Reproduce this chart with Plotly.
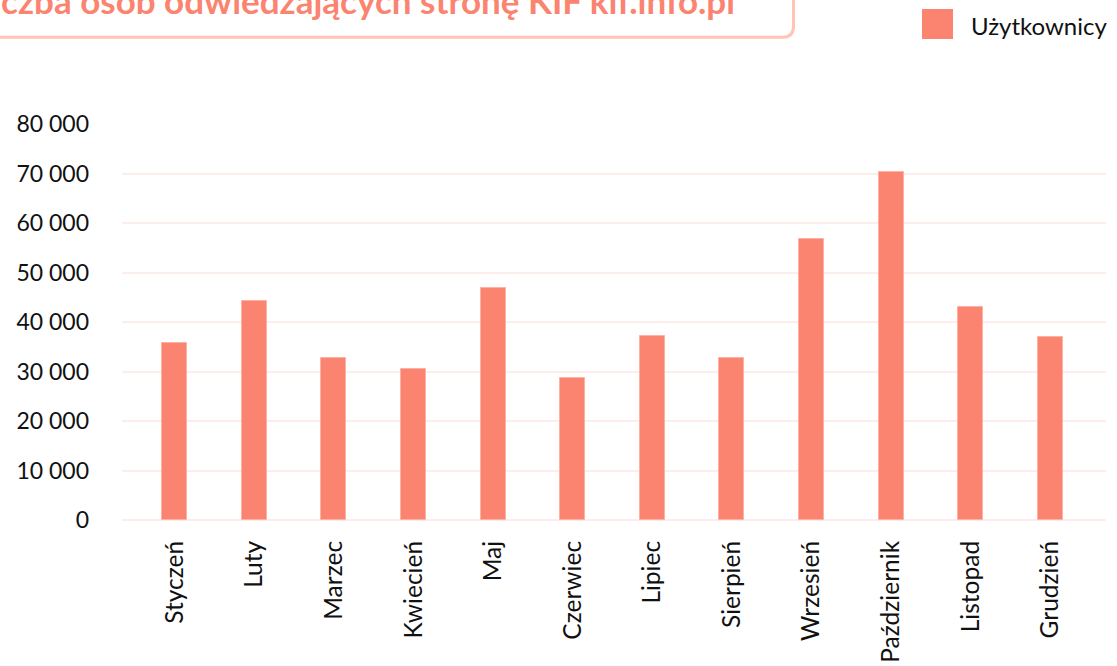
import plotly.graph_objects as go

months = ["Styczeń", "Luty", "Marzec", "Kwiecień", "Maj", "Czerwiec",
          "Lipiec", "Sierpień", "Wrzesień", "Październik", "Listopad", "Grudzień"]
users = [35800, 44200, 32800, 30500, 46800, 28600,
         37100, 32700, 56700, 70300, 43000, 37000]
series_name = "Użytkownicy"
title_text = "Liczba osób odwiedzających stronę KIF kif.info.pl"
y_tickvals = [0, 10000, 20000, 30000, 40000, 50000, 60000, 70000, 80000]
y_ticktext = ["0", "10 000", "20 000", "30 000", "40 000", "50 000", "60 000", "70 000", "80 000"]

W, H = 1117, 666
L, R, T, B = 122, 11, 124, 146
PW, PH = W - L - R, H - T - B

def px(x):
    return (x - L) / PW

def py(y):
    return (H - B - y) / PH

BAR = "#fb8470"

fig = go.Figure()
fig.add_trace(go.Bar(
    x=list(range(len(months))), y=users, name=series_name, width=0.315,
    marker=dict(color=BAR, line=dict(color="#fdb0a3", width=1)),
    showlegend=False,
))

r = 11
x0, x1, y0, y1 = px(-30), px(793.5), py(-30), py(37.2)
rx, ry = r / PW, r / PH
path = (f"M {x0},{y1} L {x1 - rx},{y1} Q {x1},{y1} {x1},{y1 + ry} "
        f"L {x1},{y0} L {x0},{y0} Z")

fig.update_layout(
    width=W, height=H,
    margin=dict(l=L, r=R, t=T, b=B, pad=0, autoexpand=False),
    paper_bgcolor="white", plot_bgcolor="white",
    font=dict(family="Lato", color="#111111"),
    bargap=0,
    xaxis=dict(
        tickmode="array", tickvals=list(range(len(months))), ticktext=months,
        range=[-0.663, 11.70], tickangle=-90, automargin=False,
        tickfont=dict(family="Lato", size=24.5, color="#111111"),
        showgrid=False, zeroline=False, showline=False, ticks="",
        ticklabelstandoff=15,
    ),
    yaxis=dict(
        range=[0, 80000], tickmode="array", tickvals=y_tickvals, ticktext=y_ticktext,
        tickfont=dict(family="Lato", size=23, color="#111111"), automargin=False,
        showgrid=True, gridcolor="#feeeeb", gridwidth=2,
        zeroline=True, zerolinecolor="#feeeeb", zerolinewidth=2,
        showline=False, ticks="", ticklabelstandoff=32,
    ),
    shapes=[
        dict(type="path", xref="paper", yref="paper", path=path,
             line=dict(color="#ffc4b4", width=3), fillcolor="rgba(0,0,0,0)", layer="above"),
        dict(type="rect", xref="paper", yref="paper",
             x0=px(922), x1=px(953), y0=py(39), y1=py(9),
             fillcolor=BAR, line=dict(width=0)),
    ],
    annotations=[
        dict(text=f"<b>{title_text}</b>", xref="paper", yref="paper",
             x=px(-28), y=py(0), xanchor="left", yanchor="middle", showarrow=False,
             font=dict(family="Lato", size=35, color="#fb8470")),
        dict(text=series_name, xref="paper", yref="paper",
             x=px(969), y=py(25), xanchor="left", yanchor="middle", showarrow=False,
             font=dict(family="Lato", size=24, color="#111111")),
    ],
)

fig.write_html("out.html", config={"responsive": False, "displayModeBar": False},
               post_script="document.body.style.margin='0';document.body.style.overflow='hidden';")
